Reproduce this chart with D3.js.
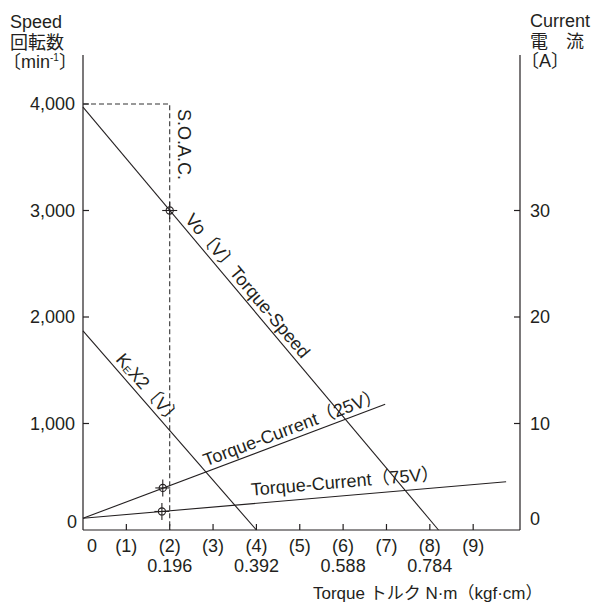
<!DOCTYPE html>
<html><head><meta charset="utf-8">
<script src="https://cdn.jsdelivr.net/npm/d3@7"></script>
<style>
body{margin:0;background:#fff;}
svg text{font-family:"Liberation Sans",Arial,"Noto Sans CJK JP",sans-serif;fill:#231f20;}
</style></head>
<body><svg id="c" width="594" height="602"></svg>
<script>
// ---- data ----
const speedTicks = [0, 1000, 2000, 3000, 4000];
const speedTickLabels = ["0", "1,000", "2,000", "3,000", "4,000"];
const currentTicks = [0, 10, 20, 30];
const currentTickLabels = ["0", "10", "20", "30"];
const torqueTicks = [0, 1, 2, 3, 4, 5, 6, 7, 8, 9];
const torqueTickLabels = ["0", "(1)", "(2)", "(3)", "(4)", "(5)", "(6)", "(7)", "(8)", "(9)"];
const nmTicks = [2, 4, 6, 8];
const nmTickLabels = ["0.196", "0.392", "0.588", "0.784"];

// lines: [torque(kgf·cm), value]
const speedLine = [[0, 3970], [8.2, 0]];          // Vo[V] Torque-Speed (speed axis)
const keLine = [[0, 1870], [4.0, 0]];             // KE X2[V] (speed axis)
const current25 = [[0, 1.1], [6.97, 11.8]];       // Torque-Current(25V) (current axis)
const current75 = [[0, 1.1], [9.76, 4.53]];       // Torque-Current(75V) (current axis)
const soac = [[0, 4000], [2, 4000], [2, 0]];      // S.O.A.C. (speed axis)
const speedMarkers = [[2, 3000]];
const currentMarkers = [[1.84, 3.95], [1.82, 1.74]];

// ---- scales ----
const x = d3.scaleLinear().domain([0, 10.08]).range([83, 520]);
const ys = d3.scaleLinear().domain([0, 4000]).range([530, 104]);
const yc = d3.scaleLinear().domain([0, 40]).range([530, 104]);

const svg = d3.select("#c");
const ink = "#231f20";
const fs = 18;

// axes frame
const axisG = svg.append("g").attr("stroke", ink).attr("stroke-width", 1.2).attr("fill", "none");
axisG.append("line").attr("x1", x(0)).attr("x2", x(0)).attr("y1", 55).attr("y2", ys(0));
axisG.append("line").attr("x1", x.range()[1]).attr("x2", x.range()[1]).attr("y1", 55).attr("y2", ys(0));
axisG.append("line").attr("x1", x(0)).attr("x2", x.range()[1]).attr("y1", ys(0)).attr("y2", ys(0));

// ticks
axisG.selectAll(".lt").data(speedTicks.filter(d => d > 0)).join("line")
  .attr("x1", x(0)).attr("x2", x(0) + 6).attr("y1", d => ys(d)).attr("y2", d => ys(d));
axisG.selectAll(".rt").data(currentTicks.filter(d => d > 0)).join("line")
  .attr("x1", x.range()[1]).attr("x2", x.range()[1] - 6).attr("y1", d => yc(d)).attr("y2", d => yc(d));
axisG.selectAll(".bt").data(torqueTicks.filter(d => d > 0)).join("line")
  .attr("x1", d => x(d)).attr("x2", d => x(d)).attr("y1", ys(0)).attr("y2", ys(0) - 6);

// tick labels
svg.selectAll(".ll").data(speedTicks).join("text")
  .attr("x", (d, i) => i === 0 ? 77 : 75).attr("y", d => d === 0 ? ys(d) - 8 : ys(d))
  .attr("dy", "0.35em").attr("text-anchor", "end").attr("font-size", fs)
  .text((d, i) => speedTickLabels[i]);
svg.selectAll(".rl").data(currentTicks).join("text")
  .attr("x", 530).attr("y", d => d === 0 ? yc(d) - 11 : yc(d))
  .attr("dy", "0.35em").attr("text-anchor", "start").attr("font-size", fs)
  .text((d, i) => currentTickLabels[i]);
svg.selectAll(".bl").data(torqueTicks).join("text")
  .attr("x", d => d === 0 ? x(d) + 9 : x(d)).attr("y", 552)
  .attr("text-anchor", "middle").attr("font-size", fs)
  .text((d, i) => torqueTickLabels[i]);
svg.selectAll(".nl").data(nmTicks).join("text")
  .attr("x", d => x(d)).attr("y", 572)
  .attr("text-anchor", "middle").attr("font-size", fs)
  .text((d, i) => nmTickLabels[i]);

// axis titles
svg.append("text").attr("x", 10).attr("y", 28).attr("font-size", fs).text("Speed");
svg.append("text").attr("x", 10).attr("y", 49).attr("font-size", fs).text("回転数");
const mt = svg.append("text").attr("x", 3).attr("y", 68).attr("font-size", fs);
mt.append("tspan").text("〔min");
mt.append("tspan").attr("font-size", 10).attr("dy", -7).text("-1");
mt.append("tspan").attr("dy", 7).text("〕");
svg.append("text").attr("x", 530).attr("y", 27).attr("font-size", fs).text("Current");
svg.append("text").attr("x", 530).attr("y", 48).attr("font-size", fs).text("電　流");
svg.append("text").attr("x", 521).attr("y", 67).attr("font-size", fs).text("〔A〕");
svg.append("text").attr("x", 313).attr("y", 599).attr("font-size", 17).text("Torque トルク N·m（kgf·cm）");

// lines
const lineGen = (yScale) => d3.line().x(d => x(d[0])).y(d => yScale(d[1]));
const lg = svg.append("g").attr("fill", "none").attr("stroke", ink).attr("stroke-width", 1.1);
lg.append("path").attr("d", lineGen(ys)(soac)).attr("stroke-dasharray", "5,3").attr("stroke", "#333");
lg.append("path").attr("d", lineGen(ys)(speedLine));
lg.append("path").attr("d", lineGen(ys)(keLine));
lg.append("path").attr("d", lineGen(yc)(current25));
lg.append("path").attr("d", lineGen(yc)(current75));

// markers
function marker(px, py) {
  const g = svg.append("g").attr("stroke", ink).attr("fill", "none").attr("stroke-width", 1.1);
  g.append("circle").attr("cx", px).attr("cy", py).attr("r", 3.6);
  g.append("line").attr("x1", px - 7.5).attr("x2", px + 7.5).attr("y1", py).attr("y2", py);
  g.append("line").attr("x1", px).attr("x2", px).attr("y1", py - 8.5).attr("y2", py + 8.5);
}
speedMarkers.forEach(d => marker(x(d[0]), ys(d[1])));
currentMarkers.forEach(d => marker(x(d[0]), yc(d[1])));

// labels along lines
function along(line, yScale, t, dy, content) {
  const [p0, p1] = line;
  const x0 = x(p0[0]), y0 = yScale(p0[1]), x1 = x(p1[0]), y1 = yScale(p1[1]);
  const ang = Math.atan2(y1 - y0, x1 - x0) * 180 / Math.PI;
  const f = (t - p0[0]) / (p1[0] - p0[0]);
  const px = x0 + f * (x1 - x0), py = y0 + f * (y1 - y0);
  const tx = svg.append("text").attr("transform", `translate(${px},${py}) rotate(${ang})`)
    .attr("y", dy).attr("font-size", fs);
  content(tx);
}
along(speedLine, ys, 2.25, -5, t => t.text("Vo〔V〕Torque-Speed"));
along(keLine, ys, 0.65, -5, t => {
  t.append("tspan").text("K");
  t.append("tspan").attr("font-size", 10).attr("dy", 1).text("E");
  t.append("tspan").attr("dy", -1).text("X2〔V〕");
});
along(current25, yc, 2.88, -5, t => t.text("Torque-Current（25V）"));
along(current75, yc, 3.9, -8, t => t.text("Torque-Current（75V）"));

// S.O.A.C. vertical label
svg.append("text").attr("transform", `translate(${x(2) + 8},${ys(4000) + 5}) rotate(90)`)
  .attr("font-size", fs).text("S.O.A.C.");
</script></body></html>
